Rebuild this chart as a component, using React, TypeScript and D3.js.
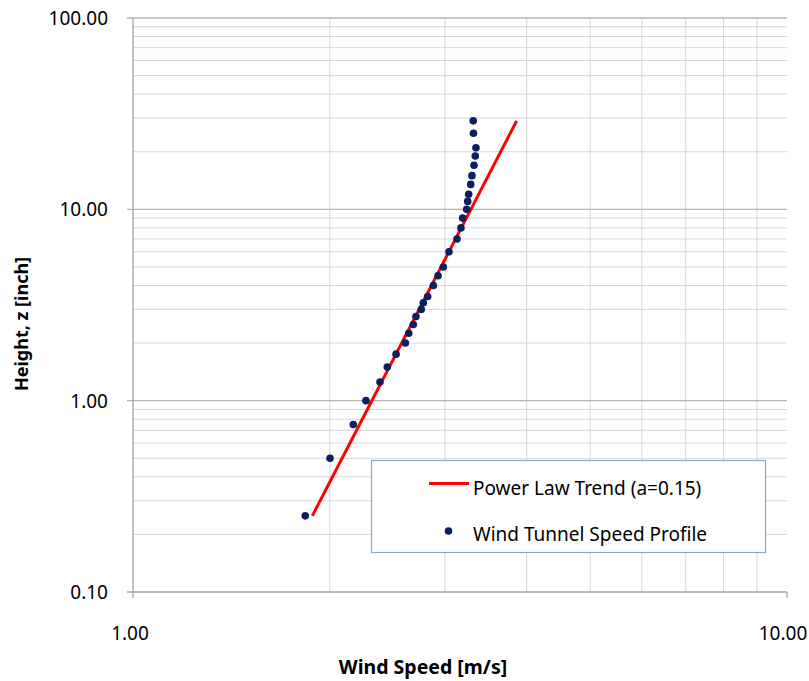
import React, { useEffect, useRef } from "react";
import * as d3 from "d3";

// wind tunnel profile
const heights = [
  0.25, 0.5, 0.75, 1, 1.25, 1.5, 1.75, 2, 2.25, 2.5, 2.75, 3, 3.25, 3.5, 4,
  4.5, 5, 6, 7, 8, 9, 10, 11, 12, 13.5, 15, 17, 19, 21, 25, 29
];
const speeds = [
  1.834, 2.001, 2.172, 2.271, 2.386, 2.448, 2.525, 2.609, 2.64, 2.683, 2.708,
  2.759, 2.779, 2.822, 2.879, 2.927, 2.982, 3.042, 3.129, 3.173, 3.192, 3.237,
  3.249, 3.26, 3.284, 3.298, 3.322, 3.337, 3.345, 3.316, 3.313
];

// power law trend end points (straight on log-log)
const trendHeights = [0.25, 29];
const trendSpeeds = [1.88, 3.86];

const xTicks = [1, 10];
const yTicks = [0.1, 1, 10, 100];
const xGrid = [2, 3, 4, 5, 6, 7, 8, 9];
const yGrid = [
  0.2, 0.3, 0.4, 0.5, 0.6, 0.7, 0.8, 0.9, 2, 3, 4, 5, 6, 7, 8, 9, 20, 30, 40,
  50, 60, 70, 80, 90
];

const legendLabels = ["Power Law Trend (a=0.15)", "Wind Tunnel Speed Profile"];

export default function App() {
  const ref = useRef<SVGSVGElement>(null);

  useEffect(() => {
    const width = 809,
      height = 681;
    const margin = { top: 18, right: 22, bottom: 89, left: 133 };
    const font = "'Noto Sans', sans-serif";

    const svg = d3.select(ref.current);
    svg.selectAll("*").remove();

    const x = d3
      .scaleLog()
      .domain([1, 10])
      .range([margin.left, width - margin.right]);
    const y = d3
      .scaleLog()
      .domain([0.1, 100])
      .range([height - margin.bottom, margin.top]);

    const x0 = x.range()[0],
      x1 = x.range()[1],
      y0 = y.range()[0],
      y1 = y.range()[1];

    // minor grid
    svg
      .selectAll(".vminor")
      .data(xGrid)
      .enter()
      .append("line")
      .attr("x1", (d) => x(d))
      .attr("x2", (d) => x(d))
      .attr("y1", y1)
      .attr("y2", y0)
      .style("stroke", "#d6d6d6")
      .style("stroke-width", 1);
    svg
      .selectAll(".hminor")
      .data(yGrid)
      .enter()
      .append("line")
      .attr("x1", x0)
      .attr("x2", x1)
      .attr("y1", (d) => y(d))
      .attr("y2", (d) => y(d))
      .style("stroke", "#d6d6d6")
      .style("stroke-width", 1);

    // major grid
    svg
      .selectAll(".hmajor")
      .data(yTicks.slice(1))
      .enter()
      .append("line")
      .attr("x1", x0 - 6)
      .attr("x2", x1)
      .attr("y1", (d) => y(d))
      .attr("y2", (d) => y(d))
      .style("stroke", "#b4b4b4")
      .style("stroke-width", 1.3);

    // axes
    svg
      .append("line")
      .attr("x1", x0)
      .attr("x2", x0)
      .attr("y1", y1)
      .attr("y2", y0 + 6)
      .style("stroke", "#a6a6a6")
      .style("stroke-width", 1.3);
    svg
      .append("line")
      .attr("x1", x0 - 6)
      .attr("x2", x1)
      .attr("y1", y0)
      .attr("y2", y0)
      .style("stroke", "#a6a6a6")
      .style("stroke-width", 1.3);
    svg
      .append("line")
      .attr("x1", x1)
      .attr("x2", x1)
      .attr("y1", y0)
      .attr("y2", y0 + 6)
      .style("stroke", "#a6a6a6")
      .style("stroke-width", 1.3);

    // tick labels
    svg
      .selectAll(".ylab")
      .data(yTicks)
      .enter()
      .append("text")
      .text((d) => d.toFixed(2))
      .attr("x", 108)
      .attr("y", (d) => y(d))
      .attr("dy", "0.36em")
      .attr("text-anchor", "end")
      .style("font-family", font)
      .style("font-size", "19px")
      .style("fill", "#000");
    svg
      .selectAll(".xlab")
      .data(xTicks)
      .enter()
      .append("text")
      .text((d) => d.toFixed(2))
      .attr("x", (d) => Math.min(x(d) - 3, 783))
      .attr("y", 640)
      .attr("text-anchor", "middle")
      .style("font-family", font)
      .style("font-size", "19px")
      .style("fill", "#000");

    // axis titles
    svg
      .append("text")
      .text("Wind Speed [m/s]")
      .attr("x", 423)
      .attr("y", 674)
      .attr("text-anchor", "middle")
      .style("font-family", font)
      .style("font-weight", "bold")
      .style("font-size", "19.5px");
    svg
      .append("text")
      .text("Height, z [inch]")
      .attr("transform", "translate(28,324) rotate(-90)")
      .attr("text-anchor", "middle")
      .style("font-family", font)
      .style("font-weight", "bold")
      .style("font-size", "18px");

    // trend line
    const line = d3
      .line<number>()
      .x((d, i) => x(trendSpeeds[i]))
      .y((d) => y(d));
    svg
      .append("path")
      .attr("d", line(trendHeights))
      .style("fill", "none")
      .style("stroke", "#ff0000")
      .style("stroke-width", 3);

    // measured points
    svg
      .selectAll(".pt")
      .data(heights)
      .enter()
      .append("circle")
      .attr("cx", (d, i) => x(speeds[i]))
      .attr("cy", (d) => y(d))
      .attr("r", 3.8)
      .style("fill", "#0b1f5e");

    // legend
    const lg = svg.append("g");
    lg.append("rect")
      .attr("x", 371.5)
      .attr("y", 460.5)
      .attr("width", 394)
      .attr("height", 92)
      .style("fill", "#fff")
      .style("stroke", "#8ea6c8")
      .style("stroke-width", 1.2);
    lg.append("line")
      .attr("x1", 429)
      .attr("x2", 469)
      .attr("y1", 483.5)
      .attr("y2", 483.5)
      .style("stroke", "#ff0000")
      .style("stroke-width", 3);
    lg.append("circle")
      .attr("cx", 448.5)
      .attr("cy", 531)
      .attr("r", 3.8)
      .style("fill", "#0b1f5e");
    lg.selectAll(".lt")
      .data(legendLabels)
      .enter()
      .append("text")
      .text((d) => d)
      .attr("x", 473)
      .attr("y", (d, i) => 495 + i * 46)
      .style("font-family", font)
      .style("font-size", "19px")
      .style("fill", "#000");
  }, []);

  return (
    <svg
      ref={ref}
      width={809}
      height={681}
      style={{ position: "absolute", left: 0, top: 0, background: "#fff" }}
    />
  );
}
